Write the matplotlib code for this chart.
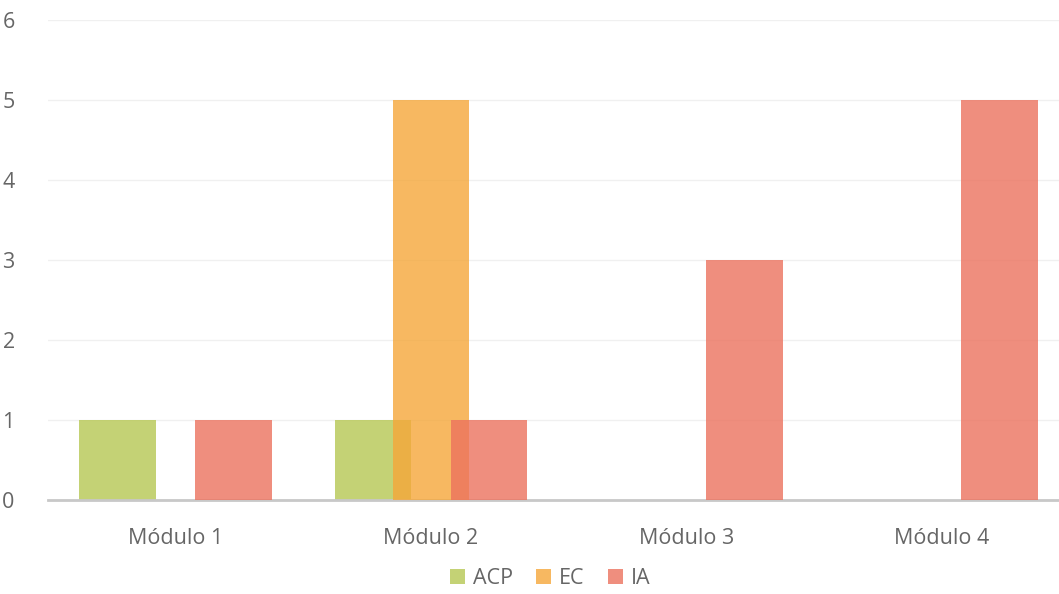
import numpy as np
import matplotlib.pyplot as plt

plt.rcParams['font.family'] = ['Open Sans', 'DejaVu Sans']

modulos = ['Módulo 1', 'Módulo 2', 'Módulo 3', 'Módulo 4']
series = ['ACP', 'EC', 'IA']
acp = [1, 1, 0, 0]
ec = [0, 5, 0, 0]
ia = [1, 1, 3, 5]
colores = ['#b6c752', '#f5a73a', '#ec725e']

fig = plt.figure(figsize=(10.59, 5.94), dpi=100)
ax = fig.add_axes([48/1059, 94/594, 1 - 48/1059, 480/594])

x = np.arange(len(modulos))
ancho = 0.30
desp = 0.227
for i, (nombre, vals) in enumerate(zip(series, [acp, ec, ia])):
    ax.bar(x + (i - 1) * desp, vals, width=ancho, color=colores[i],
           alpha=0.8, label=nombre, zorder=2 + i, linewidth=0)

ax.set_xlim(-0.5, 3.46)
ax.set_ylim(0, 6)
ax.set_yticks(range(0, 7))
ax.set_xticks(x)
ax.set_xticklabels(modulos)
ax.grid(axis='y', color='#f0f0f0', linewidth=1, zorder=0)
ax.set_axisbelow(True)
for s in ['top', 'right', 'left']:
    ax.spines[s].set_visible(False)
ax.spines['bottom'].set_color('#c8c8c8')
ax.spines['bottom'].set_linewidth(2)
ax.tick_params(axis='both', length=0, labelsize=15.5, colors='#666666')
ax.tick_params(axis='x', pad=20)
ax.tick_params(axis='y', pad=24)

leg = ax.legend(loc='upper center', bbox_to_anchor=(0.4966, -0.11), ncol=3,
                frameon=False, fontsize=15.5, handlelength=0.7, handleheight=0.7,
                handletextpad=0.35, columnspacing=1.1, borderpad=0.2)
for t in leg.get_texts():
    t.set_color('#666666')

fig.savefig('out.png', dpi=100)
